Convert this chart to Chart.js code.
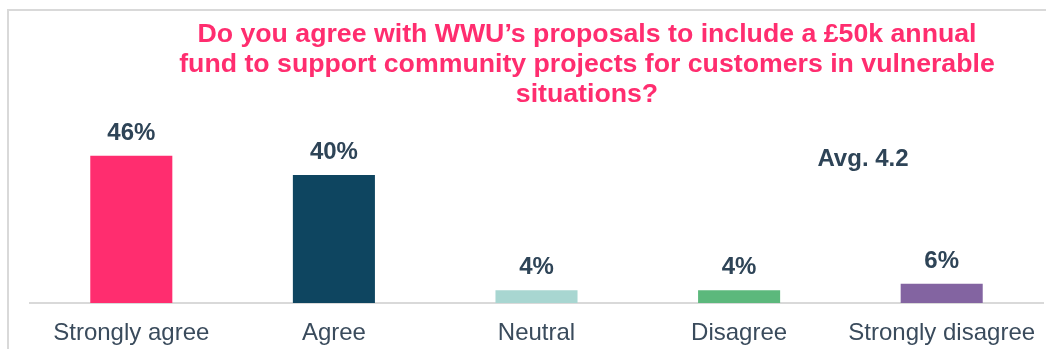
<!DOCTYPE html>
<html lang="en">
<head>
  <meta charset="UTF-8">
  <title>Community fund proposal</title>
  <script src="https://cdn.jsdelivr.net/npm/chart.js@4.4.0/dist/chart.umd.min.js"></script>
  <style>
    html, body {
      margin: 0;
      padding: 0;
      background: #ffffff;
      overflow: hidden;
    }
    .frame {
      position: absolute;
      left: 7px;
      top: 9px;
      width: 1100px;
      height: 400px;
      border-top: 2px solid #d9d9d9;
      border-left: 2px solid #d9d9d9;
    }
    .wrap {
      position: absolute;
      left: 0;
      top: 0;
      width: 1046px;
      height: 349px;
    }
  </style>
</head>
<body>
<div class="frame"></div>
<div class="wrap">
  <canvas id="fundChart" width="1046" height="349"></canvas>
</div>

<script>
  // Survey answers
  const categories = ['Strongly agree', 'Agree', 'Neutral', 'Disagree', 'Strongly disagree'];
  const shares = [46, 40, 4, 4, 6];
  const barColors = ['#ff2d6f', '#0e4560', '#a8d6d1', '#5cb87c', '#8364a1'];
  const titleLines = [
    'Do you agree with WWU\u2019s proposals to include a \u00a350k annual',
    'fund to support community projects for customers in vulnerable',
    'situations?'
  ];
  const averageText = 'Avg. 4.2';

  const FONT = '"Liberation Sans", Arial, sans-serif';
  const TEXT = '#2e4457';

  // Title, average and the value above each bar
  const annotate = {
    id: 'annotate',
    afterDraw(chart) {
      const ctx = chart.ctx;
      ctx.save();
      ctx.textAlign = 'center';
      ctx.textBaseline = 'alphabetic';

      ctx.fillStyle = '#ff2d6f';
      ctx.font = 'bold 26.7px ' + FONT;
      titleLines.forEach((line, i) => ctx.fillText(line, 587, 42 + i * 30));

      ctx.fillStyle = TEXT;
      ctx.font = 'bold 24px ' + FONT;
      ctx.fillText(averageText, 863, 166);

      const meta = chart.getDatasetMeta(0);
      meta.data.forEach((bar, i) => {
        ctx.fillText(shares[i] + '%', bar.x, bar.y - 16);
      });
      ctx.restore();
    }
  };

  new Chart(document.getElementById('fundChart'), {
    type: 'bar',
    data: {
      labels: categories,
      datasets: [{
        data: shares,
        backgroundColor: barColors,
        barPercentage: 0.405,
        categoryPercentage: 1
      }]
    },
    options: {
      responsive: false,
      animation: false,
      layout: {
        padding: { top: 111, left: 30, right: 3, bottom: 3 }
      },
      plugins: {
        legend: { display: false },
        tooltip: { enabled: false }
      },
      scales: {
        x: {
          grid: { display: false, drawTicks: false },
          border: { display: true, color: '#d9d9d9', width: 2 },
          ticks: {
            color: '#3a4b5c',
            padding: 16,
            font: { family: FONT, size: 24, lineHeight: 1.2 }
          },
          afterFit(scale) {
            // keep the axis flush with the plot edges
            scale.height = 43;
            scale.paddingLeft = 0;
            scale.paddingRight = 0;
          }
        },
        y: {
          display: false,
          min: 0,
          max: 60
        }
      }
    },
    plugins: [annotate]
  });
</script>
</body>
</html>
